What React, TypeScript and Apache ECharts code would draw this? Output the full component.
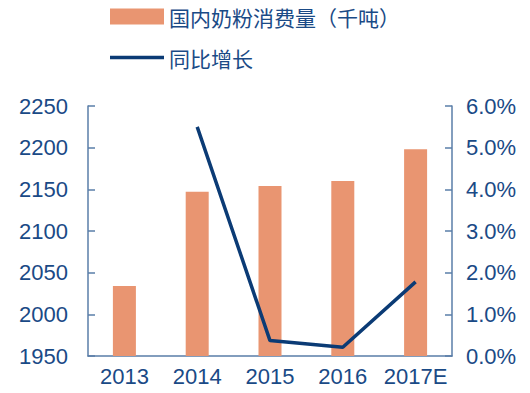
import React, { useEffect, useRef } from "react";
import * as echarts from "echarts";

const categories = ["2013", "2014", "2015", "2016", "2017E"];
const consumption = [2034, 2147, 2154, 2160, 2198];
const growth: (number | null)[] = [null, 5.5, 0.37, 0.21, 1.78];
const leftTicks = { min: 1950, max: 2250, interval: 50 };
const rightTicks = { min: 0, max: 6, interval: 1 };
const barName = "国内奶粉消费量（千吨）";
const lineName = "同比增长";

const textColor = "#1a4a86";
const axisColor = "#5a7ea8";
const font = "Liberation Sans, Arial, sans-serif";
const lineColor = "#0b3b75";

export default function App() {
  const ref = useRef<HTMLDivElement>(null);
  useEffect(() => {
    if (!ref.current) return;
    const chart = echarts.init(ref.current, undefined, { renderer: "svg" });
    const legendText = { color: textColor, fontSize: 21, lineHeight: 21, fontFamily: "Noto Sans CJK SC" };
    chart.setOption({
      animation: false,
      textStyle: { fontFamily: font },
      legend: [
        {
          left: 105,
          top: 1,
          itemWidth: 54,
          itemHeight: 16,
          textStyle: legendText,
          data: [{ name: barName, icon: "rect" }],
        },
        {
          left: 105,
          top: 42,
          itemWidth: 54,
          itemHeight: 3.5,
          textStyle: legendText,
          data: [{ name: lineName, icon: "rect" }],
        },
      ],
      grid: { left: 88, right: 78, top: 106, bottom: 37 },
      xAxis: {
        type: "category",
        data: categories,
        axisLine: { lineStyle: { color: axisColor, width: 1.5 } },
        axisTick: { inside: true, length: 8, lineStyle: { color: axisColor, width: 1.5 } },
        axisLabel: { color: textColor, fontSize: 22, margin: 9, interval: 0 },
      },
      yAxis: [
        {
          type: "value",
          min: leftTicks.min,
          max: leftTicks.max,
          interval: leftTicks.interval,
          splitLine: { show: false },
          axisLine: { show: true, lineStyle: { color: axisColor, width: 1.5 } },
          axisTick: { show: true, inside: true, length: 7, lineStyle: { color: axisColor, width: 1.5 } },
          axisLabel: { color: textColor, fontSize: 22, margin: 20, formatter: (v: number) => String(v) },
        },
        {
          type: "value",
          min: rightTicks.min,
          max: rightTicks.max,
          interval: rightTicks.interval,
          splitLine: { show: false },
          axisLine: { show: true, lineStyle: { color: axisColor, width: 1.5 } },
          axisTick: { show: true, inside: true, length: 7, lineStyle: { color: axisColor, width: 1.5 } },
          axisLabel: { color: textColor, fontSize: 22, margin: 14, formatter: (v: number) => v.toFixed(1) + "%" },
        },
      ],
      series: [
        {
          name: barName,
          type: "bar",
          data: consumption,
          barWidth: 23,
          itemStyle: { color: "#e99571" },
        },
        {
          name: lineName,
          type: "line",
          yAxisIndex: 1,
          data: growth,
          symbol: "none",
          lineStyle: { color: lineColor, width: 3.5 },
          itemStyle: { color: lineColor },
        },
      ],
    });
    return () => chart.dispose();
  }, []);
  return <div ref={ref} style={{ position: "absolute", left: 0, top: 0, width: 530, height: 393 }} />;
}
